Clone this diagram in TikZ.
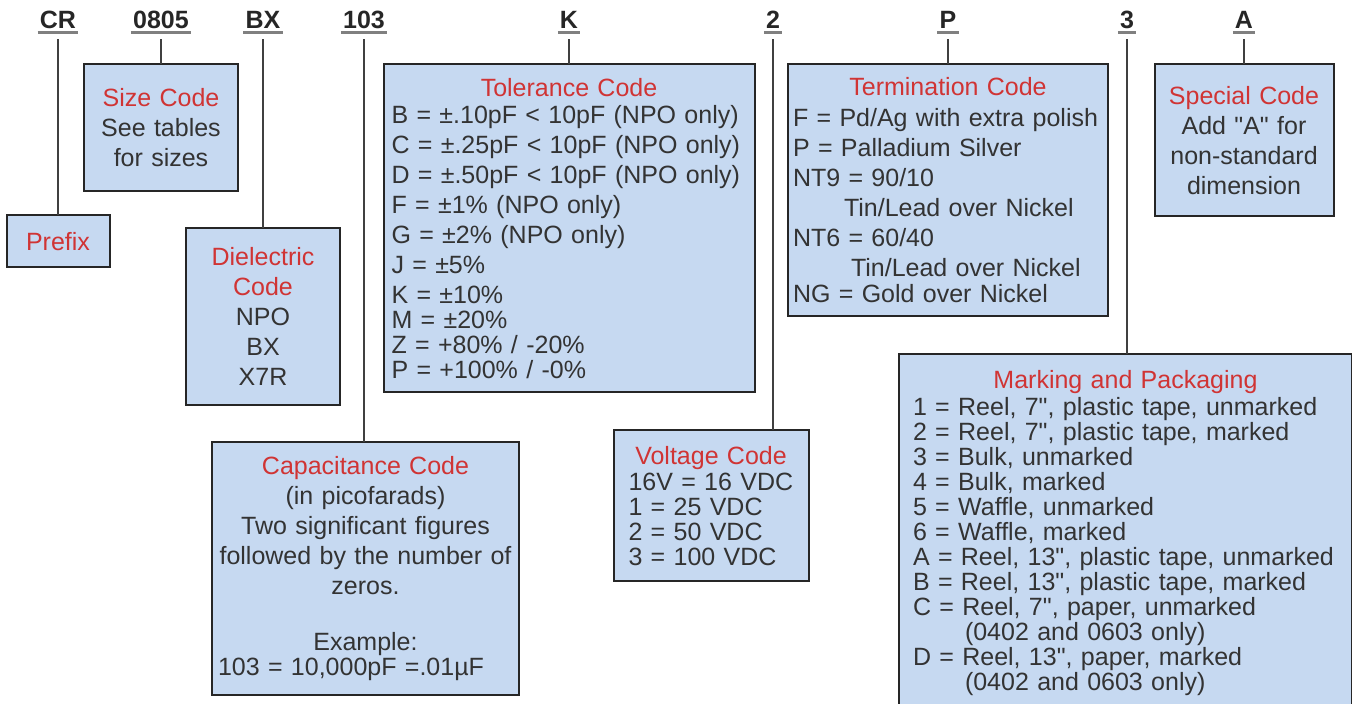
\documentclass[tikz,border=0pt]{standalone}
\usepackage{fontspec}
\setmainfont{Liberation Sans}
\usetikzlibrary{positioning}

\definecolor{boxfill}{RGB}{198,217,241}
\definecolor{boxline}{RGB}{38,38,38}
\definecolor{ttlred}{RGB}{208,52,52}
\definecolor{bodytxt}{RGB}{51,51,51}
\definecolor{ulgray}{RGB}{128,128,128}

\newcommand{\ttl}[1]{\textcolor{ttlred}{#1}}
\newcommand{\boxhead}[1]{\leavevmode\hbox to\hsize{\hfil\textcolor{ttlred}{#1}\hfil}}
% straight double quote, kept away from the TeX quote mapping
\newcommand{\dq}{{\XeTeXglyph\XeTeXglyphindex"quotedbl"\relax}}

\tikzset{
  codelabel/.style={font=\bfseries\fontsize{25}{25}\selectfont, text=black!85,
    anchor=base, inner xsep=2pt, inner ysep=4pt, text depth=0pt},
  codebox/.style={draw=boxline, fill=boxfill, line width=2pt, text=bodytxt,
    outer sep=0pt, inner xsep=6pt, inner ysep=0pt, font=\fontsize{25}{30}\selectfont},
  tightlines/.style={font=\fontsize{25}{25}\selectfont},
  lead/.style={draw=black!75, line width=2pt},
  uline/.style={draw=ulgray, line width=3pt}
}

\begin{document}
\begin{tikzpicture}[x=1pt,y=1pt]
  \useasboundingbox (0,0) rectangle (1352,-704);

  % part number fields
  \node[codelabel] (hCR)   at (58,-28)   {CR};
  \node[codelabel] (h0805) at (161,-28)  {0805};
  \node[codelabel] (hBX)   at (263,-28)  {BX};
  \node[codelabel] (h103)  at (364,-28)  {103};
  \node[codelabel] (hK)    at (569,-28)  {K};
  \node[codelabel] (h2)    at (773,-28)  {2};
  \node[codelabel] (hP)    at (948,-28)  {P};
  \node[codelabel] (h3)    at (1127,-28) {3};
  \node[codelabel] (hA)    at (1244,-28) {A};

  % code boxes
  \node[codebox, below=183pt of hCR, minimum width=103pt, minimum height=52pt,
    align=center] (prefix) {\ttl{Prefix}};
  \node[codebox, below=32pt of h0805, minimum width=154pt, minimum height=127pt,
    text width=142pt, align=center] (sizecode)
    {\ttl{Size Code}\\See tables\\for sizes};
  \node[codebox, below=196pt of hBX, minimum width=154pt, minimum height=177pt,
    text width=142pt, align=center] (dielectric)
    {\ttl{Dielectric}\\\ttl{Code}\\NPO\\BX\\X7R};
  \node[codebox, below=410pt of h103, xshift=1.5pt, minimum width=307pt, minimum height=253pt,
    text width=295pt, align=center] (capcode)
    {\ttl{Capacitance Code}\\(in picofarads)\\Two significant figures\\
     followed by the number of\\zeros.\\[26pt]Example:\\[-5pt]
     \leavevmode\hbox to\hsize{103 = 10,000pF =.01µF\hfil}};
  \node[codebox, below=32pt of hK, minimum width=371pt, minimum height=328pt,
    inner xsep=8pt, text width=355pt, align=left] (tolcode)
    {\boxhead{Tolerance Code}\\[-3pt]
     B = ±.10pF < 10pF (NPO only)\\
     C = ±.25pF < 10pF (NPO only)\\
     D = ±.50pF < 10pF (NPO only)\\
     F = ±1\% (NPO only)\\
     G = ±2\% (NPO only)\\
     J = ±5\%\\
     K = ±10\%\\[-5pt]
     M = ±20\%\\[-5pt]
     Z = +80\% / -20\%\\[-5pt]
     P = +100\% / -0\%};
  \node[codebox, tightlines, below=398pt of h2, xshift=-62pt, minimum width=195pt,
    minimum height=151pt, inner xsep=15pt, text width=165pt, align=left] (voltcode)
    {\boxhead{Voltage Code}\\[1pt]
     16V = 16 VDC\\
     1 = 25 VDC\\
     2 = 50 VDC\\
     3 = 100 VDC};
  \node[codebox, below=32pt of hP, minimum width=320pt, minimum height=252pt,
    inner xsep=5pt, text width=310pt, align=left] (termcode)
    {\boxhead{Termination Code}\\[1pt]
     F = Pd/Ag with extra polish\\
     P = Palladium Silver\\
     NT9 = 90/10\\
     \hspace*{51pt}Tin/Lead over Nickel\\
     NT6 = 60/40\\
     \hspace*{58pt}Tin/Lead over Nickel\\[-4pt]
     NG = Gold over Nickel};
  \node[codebox, tightlines, below=322pt of h3, xshift=-1.5pt, minimum width=453pt,
    minimum height=357pt, inner xsep=14pt, text width=425pt, align=left] (markpack)
    {\boxhead{Marking and Packaging}\\[2pt]
     1 = Reel, 7\dq, plastic tape, unmarked\\
     2 = Reel, 7\dq, plastic tape, marked\\
     3 = Bulk, unmarked\\
     4 = Bulk, marked\\
     5 = Waffle, unmarked\\
     6 = Waffle, marked\\
     A = Reel, 13\dq, plastic tape, unmarked\\
     B = Reel, 13\dq, plastic tape, marked\\
     C = Reel, 7\dq, paper, unmarked\\
     \hspace*{52pt}(0402 and 0603 only)\\
     D = Reel, 13\dq, paper, marked\\
     \hspace*{52pt}(0402 and 0603 only)};
  \node[codebox, below=32pt of hA, minimum width=179pt, minimum height=152pt,
    text width=167pt, align=center] (special)
    {\ttl{Special Code}\\Add \dq A\dq{} for\\non-standard\\dimension};

  % underlines and leaders
  \foreach \h in {hCR,h0805,hBX,h103,hK,h2,hP,h3,hA}
    \draw[uline] (\h.south west) -- (\h.south east);
  \foreach \h/\b in {hCR/prefix,h0805/sizecode,hBX/dielectric,h103/capcode,
                     hK/tolcode,h2/voltcode,hP/termcode,h3/markpack,hA/special}
    \draw[lead] ([yshift=-7pt]\h.south) -- (\h.south |- \b.north);
\end{tikzpicture}
\end{document}
